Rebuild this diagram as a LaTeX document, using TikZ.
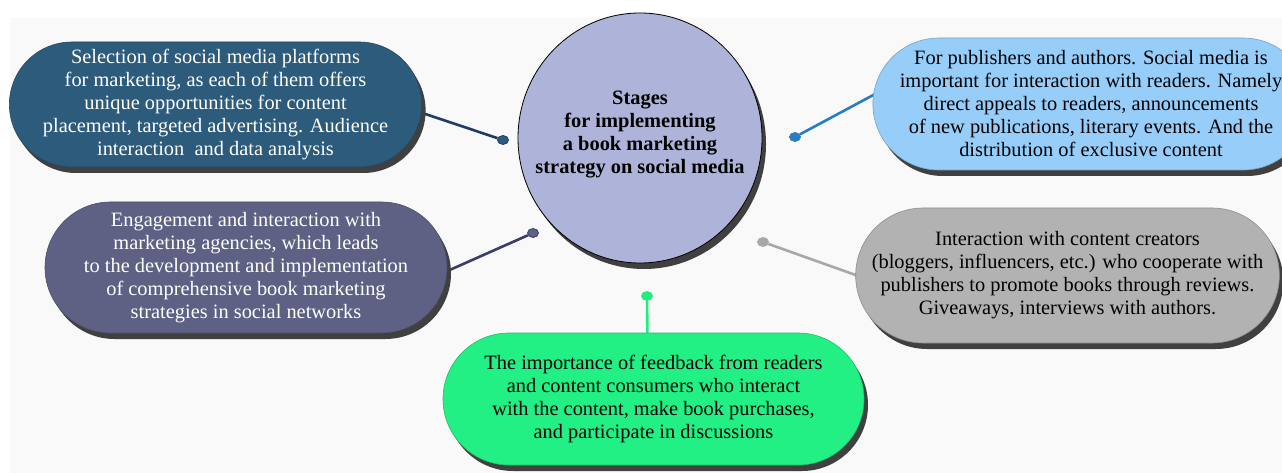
\documentclass[tikz,border=0pt]{standalone}
\usepackage{fontspec}
\setmainfont{Liberation Serif}
\usetikzlibrary{shapes.misc,shapes.geometric,shadows,calc,backgrounds}
\definecolor{pillTL}{HTML}{2C5B7C}
\definecolor{pillTR}{HTML}{96CDF9}
\definecolor{pillML}{HTML}{5E6184}
\definecolor{pillMR}{HTML}{B2B2B2}
\definecolor{pillB}{HTML}{22F084}
\definecolor{hub}{HTML}{ADB3D9}
\definecolor{lineTL}{HTML}{1C3D6A}
\definecolor{lineTR}{HTML}{2A7CC0}
\definecolor{lineML}{HTML}{3A3C70}
\definecolor{lineMR}{HTML}{A8A8A8}
\definecolor{lineB}{HTML}{22EC80}
\begin{document}
\begin{tikzpicture}[x=1pt, y=-1pt,
    every node/.style={align=center, inner sep=0pt, font=\fontsize{20.4}{23}\selectfont},
    shade/.style={drop shadow={shadow xshift=4pt, shadow yshift=-6pt, fill=black!75, opacity=1}},
    pill/.style={rounded rectangle, draw=#1!80!black, fill=#1, line width=0.6pt, shade},
    blob/.style={ellipse, minimum width=11pt, minimum height=9pt, line width=0.8pt},
    link/.style={draw=#1, line width=2.6pt}]
            \useasboundingbox (0,0) rectangle (1282,473);
            \begin{scope}[on background layer]
            \fill[white] (0,0) rectangle (1282,473);
            \fill[gray!5] (10,18) rectangle (1282,473);
            \end{scope}

            % Central stage
            \node[ellipse, draw=black, line width=0.8pt, fill=hub, inner xsep=-22pt, minimum width=244pt, minimum height=250pt, shade, font=\fontsize{20.4}{23}\selectfont\bfseries] (S-0) at (640,138) {Stages\\for implementing\\a book marketing\\strategy on social media\rule[-11pt]{0pt}{11pt}};

            % Outer stages
            \node[pill=pillTL, minimum width=405pt, minimum height=125pt, text=white] (S-1) at (215.5,104.5) {Selection of social media platforms\\for marketing, as each of them offers\\unique opportunities for content\\placement, targeted advertising. Audience\\interaction\ \ and data analysis};
            \node[pill=pillTR, minimum width=402pt, minimum height=132pt] (S-2) at (1091,104) {For publishers and authors. Social media is\\important for interaction with readers. Namely\\direct appeals to readers, announcements\\of new publications, literary events. And the\\distribution of exclusive content};
            \node[pill=pillML, minimum width=402pt, minimum height=131pt, text=white] (S-3) at (246,267.5) {Engagement and interaction with\\marketing agencies, which leads\\to the development and implementation\\of comprehensive book marketing\\strategies in social networks};
            \node[pill=pillMR, minimum width=415pt, minimum height=135pt] (S-4) at (1067.5,275.5) {Interaction with content creators\\(bloggers, influencers, etc.) who cooperate with\\publishers to promote books through reviews.\\Giveaways, interviews with authors.};
            \node[pill=pillB, minimum width=421pt, minimum height=132pt] (S-5) at (653.5,399) {The importance of feedback from readers\\and content consumers who interact\\with the content, make book purchases,\\and participate in discussions};

            % Dots
            \node[blob, fill=pillTL, draw=lineTL] (D-1) at (503,140) {};
            \node[blob, fill=lineTR, draw=lineTR] (D-2) at (795,137) {};
            \node[blob, fill=pillML, draw=lineML] (D-3) at (533,233) {};
            \node[blob, fill=lineMR, draw=lineMR] (D-4) at (763,242) {};
            \node[blob, fill=lineB, draw=lineB] (D-5) at (647,296) {};

            % Connectors
            \begin{scope}[on background layer]
            \draw[link=lineTL] (D-1) -- ($(S-1.east)+(-10,5)$);
            \draw[link=lineTR] (D-2) -- ($(S-2.west)+(10,-14)$);
            \draw[link=lineML] (D-3) -- ($(S-3.east)+(-10,8)$);
            \draw[link=lineMR] (D-4) -- ($(S-4.west)+(10,3)$);
            \draw[link=lineB] (D-5) -- ($(S-5.north)+(-6,10)$);
            \end{scope}
        \end{tikzpicture}
\end{document}
